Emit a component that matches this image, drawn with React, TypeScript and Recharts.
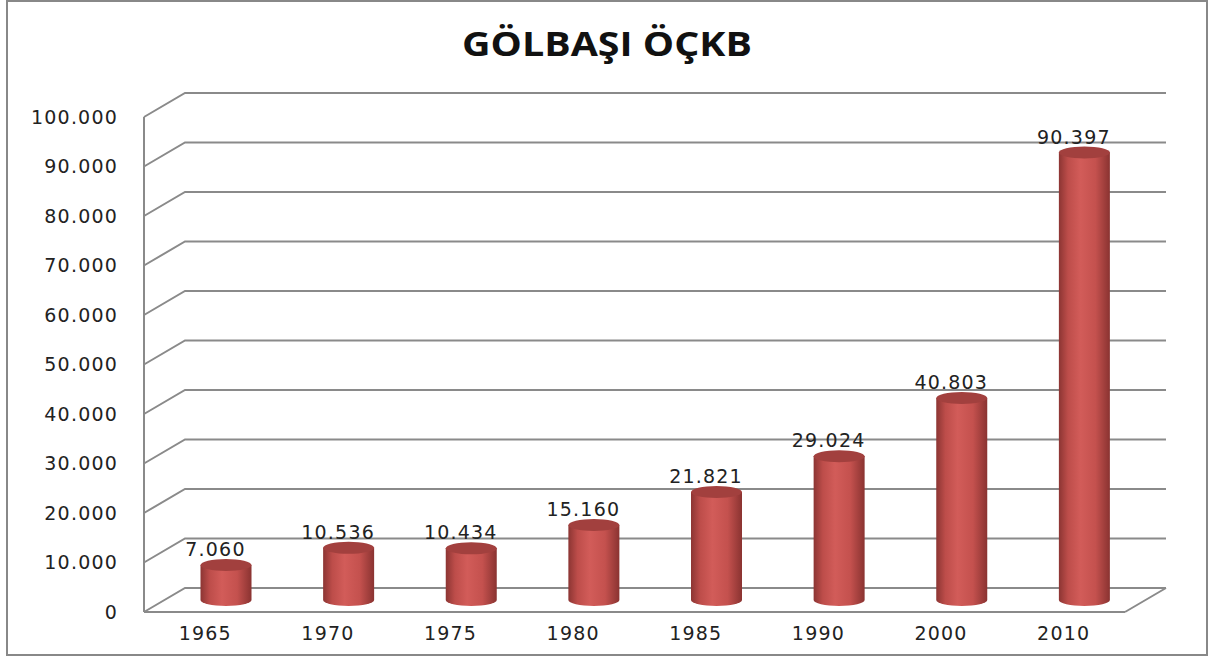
import React from 'react';
import { BarChart, Bar, XAxis, YAxis, CartesianGrid, LabelList } from 'recharts';

const years = ['1965', '1970', '1975', '1980', '1985', '1990', '2000', '2010'];
const population = [7060, 10536, 10434, 15160, 21821, 29024, 40803, 90397];
const yTicks = [0, 10000, 20000, 30000, 40000, 50000, 60000, 70000, 80000, 90000, 100000];

const data = years.map((year, i) => ({ year, value: population[i] }));

// depth of the fake 3D box
const DX = 41;
const DY = 24;
const GRID = '#8a8a8a';
const FONT = '"DejaVu Sans", Verdana, sans-serif';

// 7060 -> "7.060"
const fmt = (v: number) => String(v).replace(/\B(?=(\d{3})+(?!\d))/g, '.');

const GridLine = (props: any) => {
  const { x1, x2, y1 } = props;
  const bottom = props.y + props.height;
  const isFloor = Math.abs(y1 - bottom) < 0.5;
  let d = `M${x1},${y1} L${x1 + DX},${y1 - DY} L${x2 + DX},${y1 - DY}`;
  if (isFloor) d += ` M${x2},${y1} L${x2 + DX},${y1 - DY}`;
  return <path key={props.key} d={d} fill="none" stroke={GRID} strokeWidth={2} />;
};

const Cylinder = (props: any) => {
  const { x, y, width, height } = props;
  const left = x + DX / 2;
  const right = left + width;
  const top = y - DY / 2;
  const bot = y + height - DY / 2;
  const rx = width / 2;
  const ry = 6;
  return (
    <g>
      <path
        d={`M${left},${top} L${left},${bot} A${rx},${ry} 0 0 0 ${right},${bot} L${right},${top} Z`}
        fill="url(#cylBody)"
      />
      <ellipse cx={left + rx} cy={top} rx={rx} ry={ry} fill="#a2403e" />
    </g>
  );
};

const ValueLabel = (props: any) => {
  const { x, y, width, value } = props;
  return (
    <text
      x={x + width / 2 + 10}
      y={y - 28}
      textAnchor="middle"
      dominantBaseline="central"
      fontFamily={FONT}
      fontSize={19}
      letterSpacing={1.2}
      fill="#222"
    >
      {fmt(value)}
    </text>
  );
};

const tickStyle = { fill: '#222', fontSize: 19, fontFamily: FONT, letterSpacing: 1.2 };

export default function App() {
  return (
    <div style={{ position: 'absolute', left: 0, top: 0, width: 1208, height: 657, background: '#fff' }}>
      <svg width={1208} height={657} style={{ position: 'absolute', left: 0, top: 0 }}>
        <rect x={7} y={1} width={1200} height={654} fill="none" stroke="#888" strokeWidth={2} />
        <text
          x={607}
          y={56}
          textAnchor="middle"
          fontFamily='"Open Sans", sans-serif'
          fontWeight={700}
          fontSize={34}
          textLength={290}
          lengthAdjust="spacingAndGlyphs"
          fill="#111"
        >
          GÖLBAŞI ÖÇKB
        </text>
      </svg>
      <div style={{ position: 'absolute', left: 0, top: 0 }}>
        <BarChart
          width={1208}
          height={657}
          data={data}
          margin={{ top: 117, right: 83, bottom: 0, left: 84 }}
          barSize={51}
        >
          <defs>
            <linearGradient id="cylBody" x1="0" y1="0" x2="1" y2="0">
              <stop offset="0%" stopColor="#8c3533" />
              <stop offset="18%" stopColor="#bd4d4a" />
              <stop offset="42%" stopColor="#d25c59" />
              <stop offset="72%" stopColor="#c4514e" />
              <stop offset="100%" stopColor="#8a3331" />
            </linearGradient>
          </defs>
          <CartesianGrid vertical={false} horizontal={GridLine} />
          <XAxis
            dataKey="year"
            height={45}
            axisLine={{ stroke: GRID, strokeWidth: 2 }}
            tickLine={false}
            tickSize={0}
            tickMargin={15}
            tick={tickStyle}
            interval={0}
          />
          <YAxis
            width={60}
            domain={[0, 100000]}
            ticks={yTicks}
            interval={0}
            tickFormatter={fmt}
            axisLine={{ stroke: GRID, strokeWidth: 2 }}
            tickLine={false}
            tickSize={0}
            tickMargin={26}
            tick={tickStyle}
          />
          <Bar dataKey="value" shape={Cylinder} isAnimationActive={false}>
            <LabelList dataKey="value" content={ValueLabel} />
          </Bar>
        </BarChart>
      </div>
    </div>
  );
}
